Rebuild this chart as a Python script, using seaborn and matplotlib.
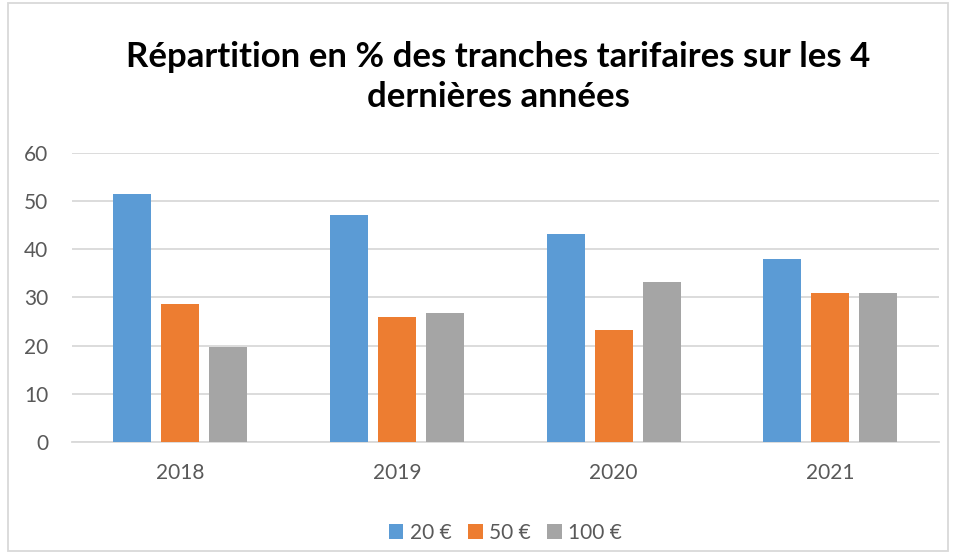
import matplotlib.pyplot as plt
import seaborn as sns
import pandas as pd
from matplotlib.patches import Rectangle

annees = ['2018', '2019', '2020', '2021']
tranches = ['20 €', '50 €', '100 €']
val_20 = [51.5, 47.2, 43.2, 38.0]
val_50 = [28.6, 26.0, 23.2, 31.0]
val_100 = [19.8, 26.7, 33.3, 31.0]
couleurs = ['#5b9bd5', '#ed7d31', '#a5a5a5']

df = pd.DataFrame({
    'annee': annees * 3,
    'tranche': [tranches[0]] * 4 + [tranches[1]] * 4 + [tranches[2]] * 4,
    'valeur': val_20 + val_50 + val_100,
})

sns.set_style('white')
plt.rcParams['font.family'] = ['Lato', 'DejaVu Sans']

fig = plt.figure(figsize=(9.55, 5.57), dpi=100)
ax = fig.add_axes([0.0754, 0.2065, 0.9076, 0.5188])

sns.barplot(data=df, x='annee', y='valeur', hue='tranche', palette=couleurs,
            width=0.665, gap=0.21, ax=ax, zorder=3, saturation=1, linewidth=0)

ax.set_ylim(0, 60)
ax.set_yticks(range(0, 61, 10))
ax.set_xlim(-0.5, 3.5)
ax.grid(axis='y', color='#d9d9d9', linewidth=1.3, zorder=0)
ax.set_axisbelow(True)
for s in ['top', 'right', 'left']:
    ax.spines[s].set_visible(False)
ax.spines['bottom'].set_color('#d9d9d9')
ax.spines['bottom'].set_linewidth(1.3)
ax.tick_params(axis='y', length=0, pad=17, labelsize=15, labelcolor='#595959')
ax.tick_params(axis='x', length=0, pad=15, labelsize=15, labelcolor='#595959')
ax.set_xlabel('')
ax.set_ylabel('')

ax.legend(loc='upper center', bbox_to_anchor=(0.5, -0.215), ncol=3, frameon=False,
          fontsize=15, labelcolor='#595959', handlelength=0.7, handleheight=0.7,
          handletextpad=0.3, columnspacing=0.8)

fig.text(0.522, 0.862, 'Répartition en % des tranches tarifaires sur les 4\ndernières années',
         ha='center', va='center', fontsize=25, fontweight='bold', color='black',
         linespacing=1.3)

fig.patches.append(Rectangle((0.008, 0.01), 0.985, 0.985, transform=fig.transFigure,
                             fill=False, edgecolor='#d9d9d9', linewidth=1.3))

fig.savefig('out.png', dpi=100)
